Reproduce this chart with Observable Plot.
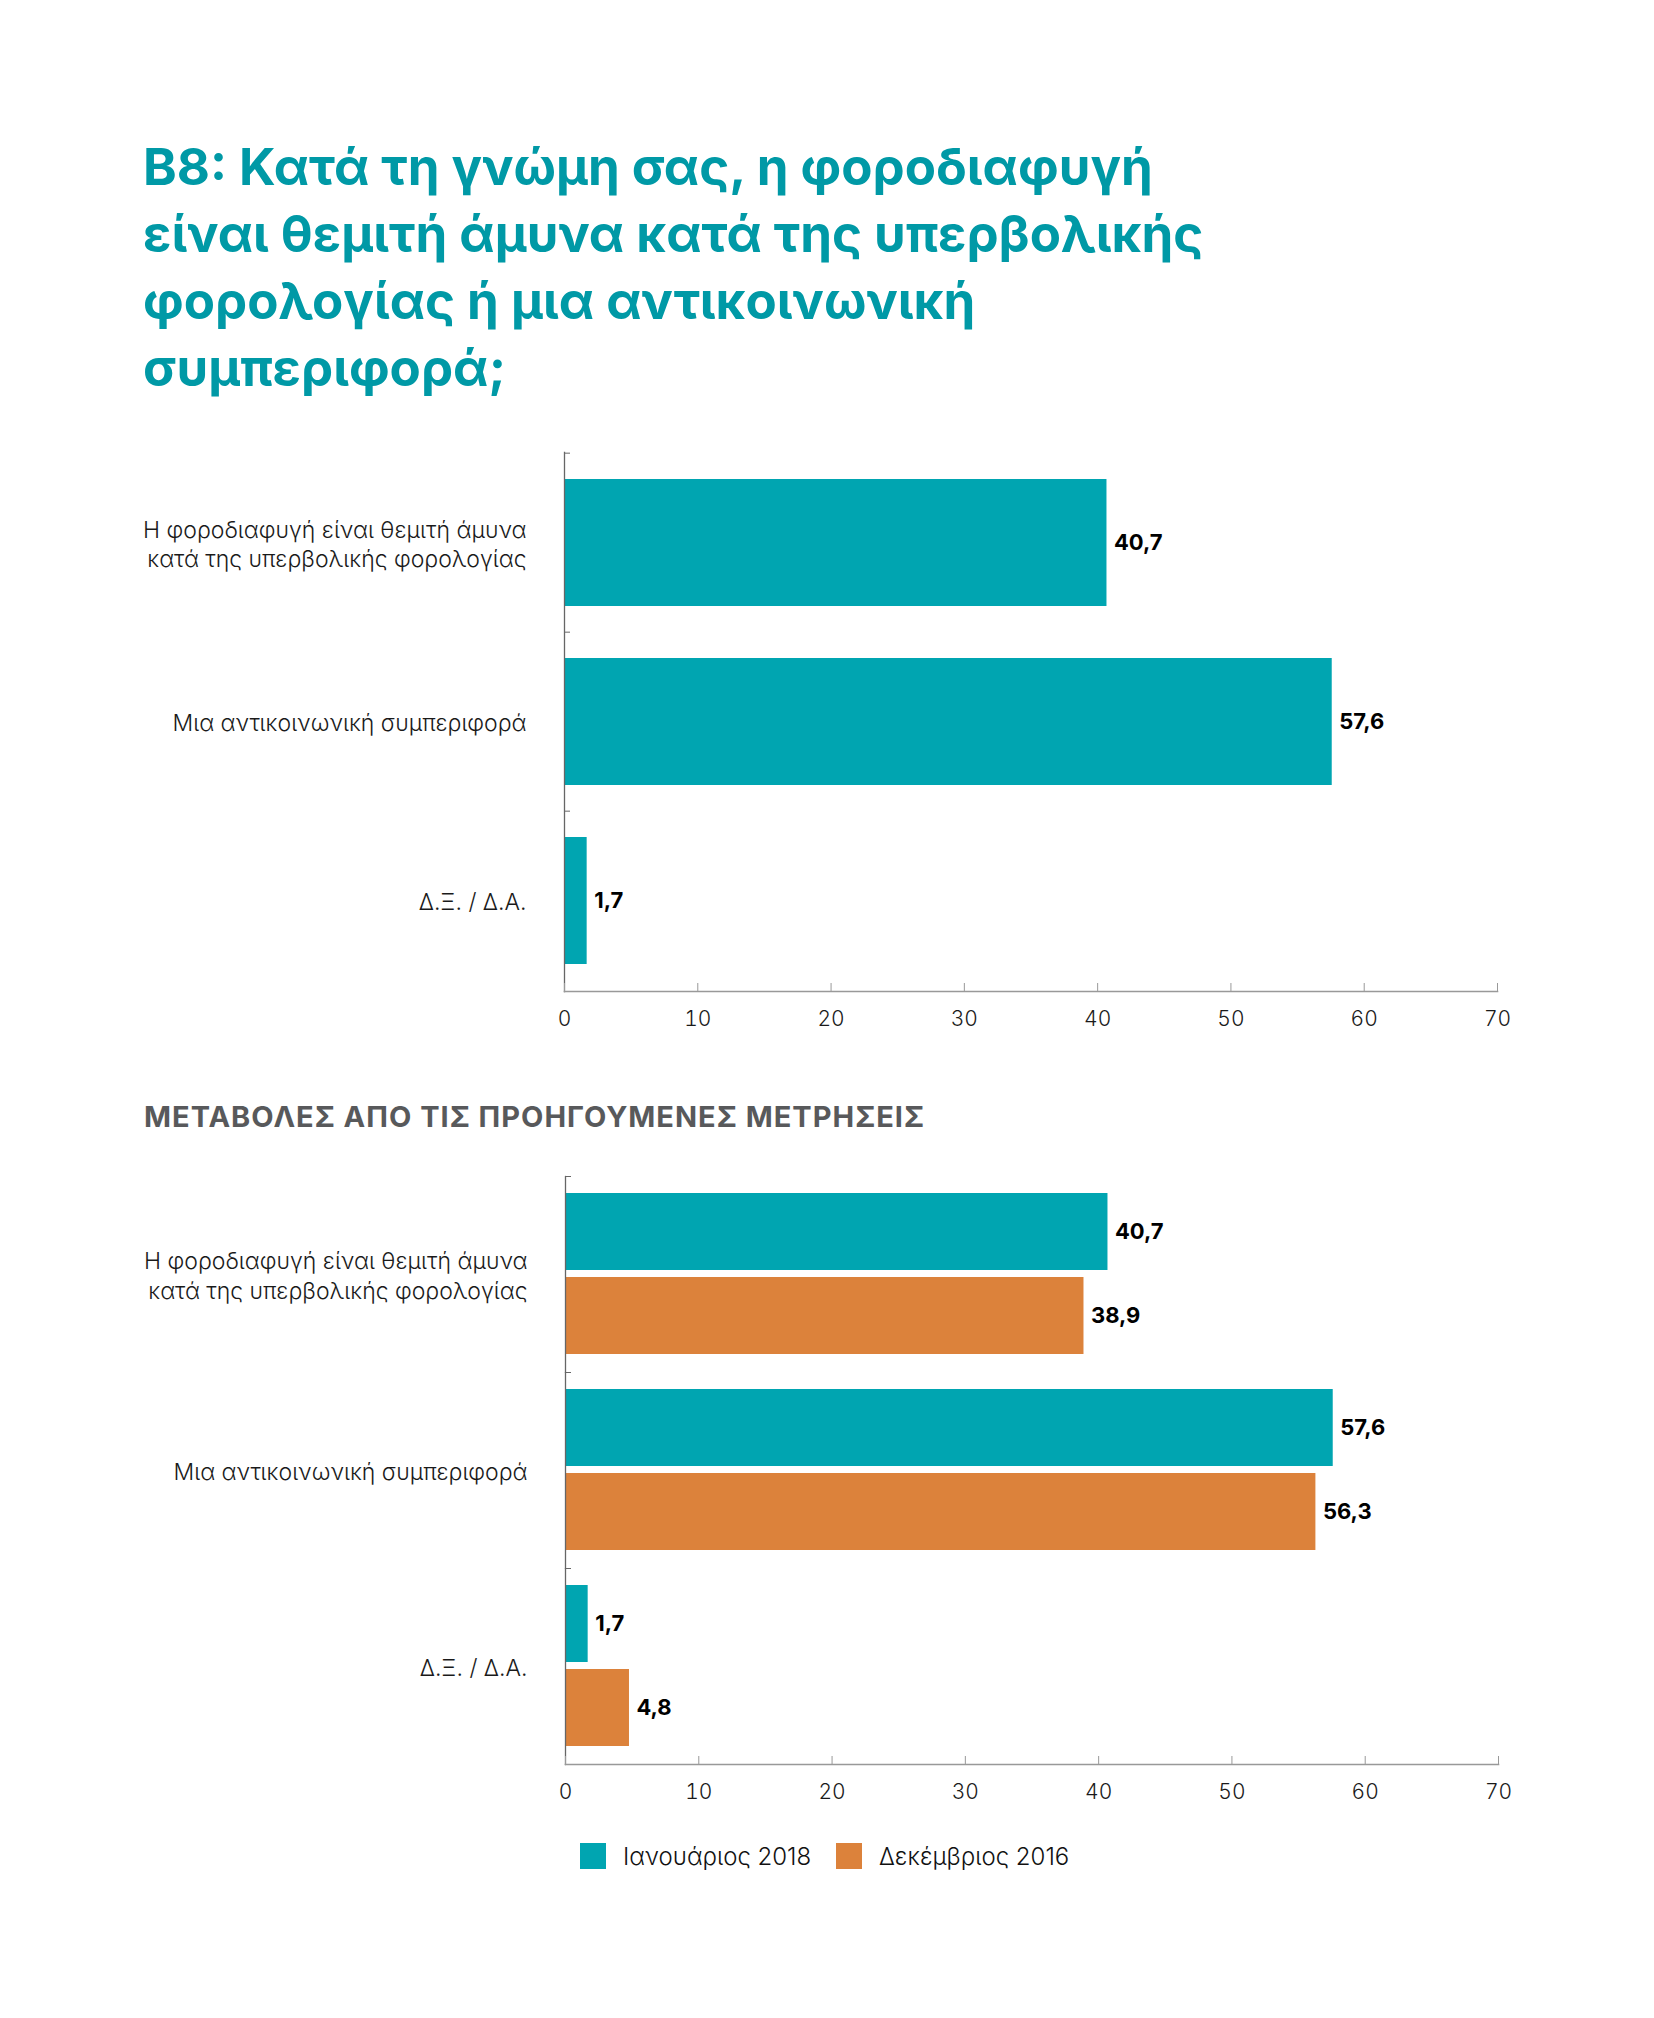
<!DOCTYPE html>
<html>
<head>
<meta charset="utf-8">
<script src="https://cdn.jsdelivr.net/npm/d3@7"></script>
<script src="https://cdn.jsdelivr.net/npm/@observablehq/plot@0.6"></script>
<style>
  html, body { margin: 0; padding: 0; background: #fff; }
  body { width: 1654px; height: 2018px; position: relative; overflow: hidden; font-family: Inter, "Noto Sans", sans-serif; }
  #title { position: absolute; left: 143px; top: 133px; font-size: 51px; font-weight: 700; color: #0099a6; line-height: 67px; white-space: nowrap; }
  #sub { position: absolute; left: 144px; top: 1102px; font-size: 29px; line-height: 29px; letter-spacing: 1px; font-weight: 700; color: #58595b; white-space: nowrap; }
  #top { position: absolute; left: 0; top: 400px; }
  #bottom { position: absolute; left: 0; top: 1130px; }
  .leg { position: absolute; top: 1843px; height: 26px; display: flex; align-items: center; font-size: 24px; font-weight: 300; color: #111; white-space: nowrap; }
  .sw { width: 26px; height: 26px; margin-right: 17px; }
</style>
</head>
<body>
<div id="title"></div>
<div id="top"></div>
<div id="sub"></div>
<div id="bottom"></div>
<div id="legend"></div>
<script>
// ---- data ----
const titleLines = [
  "B8: Κατά τη γνώμη σας, η φοροδιαφυγή",
  "είναι θεμιτή άμυνα κατά της υπερβολικής",
  "φορολογίας ή μια αντικοινωνική",
  "συμπεριφορά;"
];
const subtitle = "ΜΕΤΑΒΟΛΕΣ ΑΠΟ ΤΙΣ ΠΡΟΗΓΟΥΜΕΝΕΣ ΜΕΤΡΗΣΕΙΣ";
const categories = [
  "Η φοροδιαφυγή είναι θεμιτή άμυνα κατά της υπερβολικής φορολογίας",
  "Μια αντικοινωνική συμπεριφορά",
  "Δ.Ξ. / Δ.Α."
];
const categoryLabels = [
  "Η φοροδιαφυγή είναι θεμιτή άμυνα\nκατά της υπερβολικής φορολογίας",
  "Μια αντικοινωνική συμπεριφορά",
  "Δ.Ξ. / Δ.Α."
];
const series = ["Ιανουάριος 2018", "Δεκέμβριος 2016"];
const jan2018 = [40.7, 57.6, 1.7];
const dec2016 = [38.9, 56.3, 4.8];
const xDomain = [0, 70];
const xTicks = [0, 10, 20, 30, 40, 50, 60, 70];
const colors = ["#00a5b1", "#dc823b"];

// ---- helpers ----
const FONT = "Inter, 'Noto Sans', sans-serif";
const fmt = v => v.toFixed(1).replace(".", ",");
const labelOf = c => categoryLabels[categories.indexOf(c)];
const W = 1654;

document.getElementById("title").innerHTML = titleLines.join("<br>");
document.getElementById("sub").textContent = subtitle;

// ---- top chart ----
const topH = 660, topMT = 52, topMB = 69;
const topStep = (topH - topMT - topMB) / categories.length;
const topData = categories.map((c, i) => ({cat: c, value: jan2018[i]}));

const topChart = Plot.plot({
  width: W, height: topH,
  marginTop: topMT, marginBottom: topMB, marginLeft: 564, marginRight: 157,
  style: {fontFamily: FONT, fontSize: "21px", color: "#1a1a1a", background: "transparent", overflow: "visible"},
  x: {domain: xDomain, label: null},
  y: {domain: categories, paddingInner: 0.29, paddingOuter: 0.145, label: null},
  marks: [
    Plot.barX(topData, {x: "value", y: "cat", fill: colors[0]}),
    Plot.text(topData, {x: "value", y: "cat", text: d => fmt(d.value), textAnchor: "start", dx: 7, fontWeight: 700, fontSize: 22, fill: "#000"}),
    Plot.frame({anchor: "left", stroke: "#666", strokeWidth: 1.3}),
    Plot.frame({anchor: "bottom", stroke: "#999", strokeWidth: 1.6}),
    Plot.axisY({tickSize: 0, tickPadding: 38, tickFormat: labelOf, fontWeight: 300, fontSize: 23, lineHeight: 1.28, label: null, stroke: "none"}),
    Plot.axisY({tickSize: 6, dx: 6, dy: -topStep / 2, fill: "none", stroke: "#666", label: null}),
    Plot.axisX({ticks: xTicks, tickSize: 0, tickPadding: 20, fontWeight: 300, label: null, stroke: "none"}),
    Plot.axisX({ticks: xTicks, tickSize: 8, dy: -8, fill: "none", stroke: "#999", label: null})
  ]
});
document.getElementById("top").append(topChart);

// ---- bottom chart ----
const botH = 700, botMT = 46, botMB = 66;
const botStep = (botH - botMT - botMB) / categories.length;
const botData = categories.flatMap((c, i) => [
  {cat: c, series: series[0], value: jan2018[i]},
  {cat: c, series: series[1], value: dec2016[i]}
]);

const botChart = Plot.plot({
  width: W, height: botH,
  marginTop: botMT, marginBottom: botMB, marginLeft: 565, marginRight: 156,
  style: {fontFamily: FONT, fontSize: "21px", color: "#1a1a1a", background: "transparent", overflow: "visible"},
  x: {domain: xDomain, label: null},
  y: {domain: series, paddingInner: 0.082, paddingOuter: 0.194, axis: null, label: null},
  fy: {domain: categories, padding: 0, label: null},
  color: {domain: series, range: colors},
  marks: [
    Plot.barX(botData, {x: "value", y: "series", fy: "cat", fill: "series"}),
    Plot.text(botData, {x: "value", y: "series", fy: "cat", text: d => fmt(d.value), textAnchor: "start", dx: 7, fontWeight: 700, fontSize: 22, fill: "#000"}),
    Plot.frame({anchor: "left", stroke: "#666", strokeWidth: 1.3}),
    Plot.frame({anchor: "bottom", facetAnchor: "bottom", stroke: "#999", strokeWidth: 1.6}),
    Plot.axisFy({anchor: "left", tickSize: 0, tickPadding: 38, tickFormat: labelOf, fontWeight: 300, fontSize: 23, lineHeight: 1.28, label: null, stroke: "none"}),
    Plot.axisFy({anchor: "left", tickSize: 6, dx: 6, dy: -botStep / 2, fill: "none", stroke: "#666", label: null}),
    Plot.axisX({ticks: xTicks, tickSize: 0, tickPadding: 20, fontWeight: 300, label: null, stroke: "none"}),
    Plot.axisX({ticks: xTicks, tickSize: 8, dy: -8, fill: "none", stroke: "#999", label: null})
  ]
});
document.getElementById("bottom").append(botChart);

// ---- legend ----
const legendLefts = [580, 836];
const legend = document.getElementById("legend");
series.forEach((s, i) => {
  const item = document.createElement("div");
  item.className = "leg";
  item.style.left = legendLefts[i] + "px";
  const sw = document.createElement("div");
  sw.className = "sw";
  sw.style.background = colors[i];
  const t = document.createElement("span");
  t.textContent = s;
  item.append(sw, t);
  legend.append(item);
});
</script>
</body>
</html>
